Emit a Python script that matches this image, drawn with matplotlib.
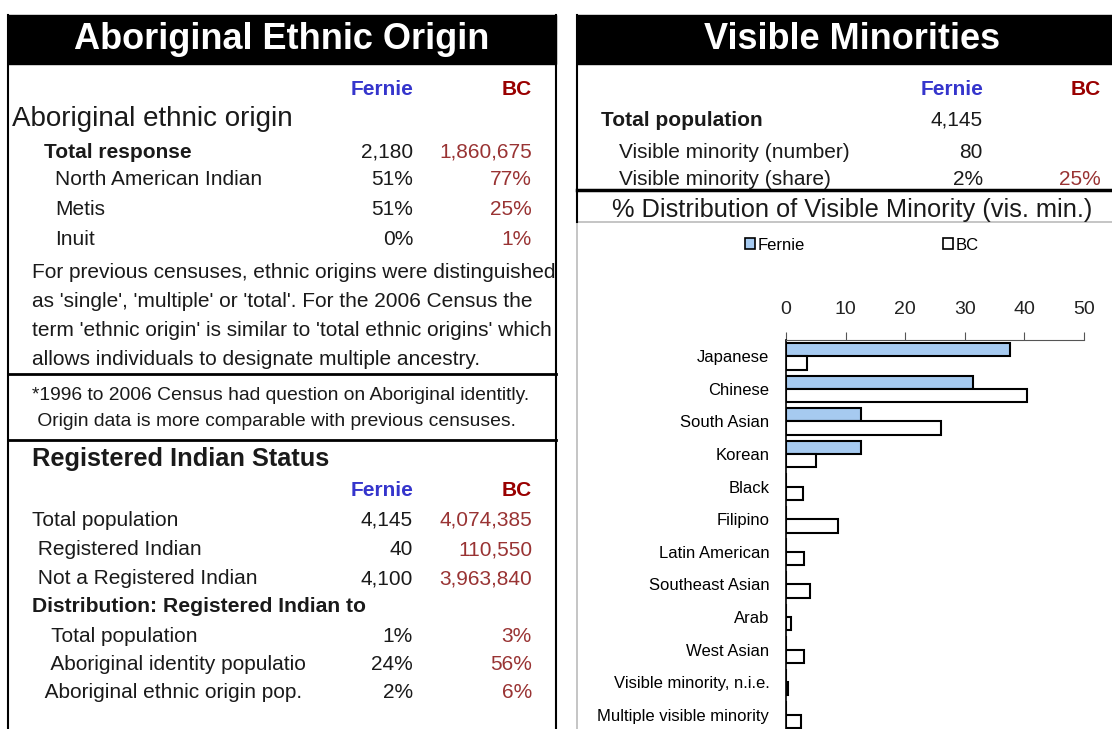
import numpy as np
import matplotlib.pyplot as plt
from matplotlib.patches import Rectangle, Patch

plt.rcParams['font.family'] = ['Liberation Sans', 'DejaVu Sans']

# ---- data ----
origin_rows = ["North American Indian", "Metis", "Inuit"]
origin_fernie = ["51%", "51%", "0%"]
origin_bc = ["77%", "25%", "1%"]
total_response = ["2,180", "1,860,675"]

note_lines = ["For previous censuses, ethnic origins were distinguished",
              "as 'single', 'multiple' or 'total'. For the 2006 Census the",
              "term 'ethnic origin' is similar to 'total ethnic origins' which",
              "allows individuals to designate multiple ancestry."]
foot_lines = ["*1996 to 2006 Census had question on Aboriginal identitly.",
              " Origin data is more comparable with previous censuses."]

reg_rows = ["Total population", " Registered Indian", " Not a Registered Indian"]
reg_fernie = ["4,145", "40", "4,100"]
reg_bc = ["4,074,385", "110,550", "3,963,840"]

dist_rows = ["  Total population", "  Aboriginal identity populatio", " Aboriginal ethnic origin pop."]
dist_fernie = ["1%", "24%", "2%"]
dist_bc = ["3%", "56%", "6%"]

vm_rows = ["Total population", "Visible minority (number)", "Visible minority (share)"]
vm_fernie = ["4,145", "80", "2%"]
vm_bc = ["", "", "25%"]

groups = ["Japanese", "Chinese", "South Asian", "Korean", "Black", "Filipino",
          "Latin American", "Southeast Asian", "Arab", "West Asian",
          "Visible minority, n.i.e.", "Multiple visible minority"]
fernie_pct = [37.5, 31.3, 12.5, 12.5, 0, 0, 0, 0, 0, 0, 0, 0]
bc_pct = [3.5, 40.4, 26.0, 5.0, 2.9, 8.8, 3.0, 4.0, 0.8, 3.0, 0.4, 2.5]

BLUE = "#3535CC"
DRED = "#990000"
MRED = "#993333"
TXT = "#1a1a1a"
FS = 15

fig = plt.figure(figsize=(11.12, 7.29), dpi=100)
bg = fig.add_axes([0, 0, 1, 1])
bg.set_xlim(0, 1112)
bg.set_ylim(729, 0)
bg.axis('off')


def t(x, y, s, **kw):
    kw.setdefault('color', TXT)
    kw.setdefault('fontsize', FS)
    kw.setdefault('va', 'center')
    bg.text(x, y + 1, s, **kw)


# ---- left panel ----
bg.add_patch(Rectangle((8, 15), 548, 49, color='black'))
t(282, 38, "Aboriginal Ethnic Origin", color='white', fontsize=26,
  fontweight='bold', ha='center')
bg.plot([8, 8], [15, 729], color='black', lw=1.5)
bg.plot([556, 556], [15, 729], color='black', lw=1.5)
bg.plot([8, 556], [374, 374], color='black', lw=2)
bg.plot([8, 556], [440, 440], color='black', lw=2)

fx, bx = 413, 532
t(fx, 88, "Fernie", color=BLUE, fontsize=15, fontweight='bold', ha='right')
t(bx, 88, "BC", color=DRED, fontsize=15, fontweight='bold', ha='right')
t(12, 118, "Aboriginal ethnic origin", fontsize=20)
t(44, 151, "Total response", fontsize=15, fontweight='bold')
t(fx, 151, total_response[0], ha='right')
t(bx, 151, total_response[1], color=MRED, ha='right')
for i, lab in enumerate(origin_rows):
    y = 178 + 30 * i
    t(55, y, lab)
    t(fx, y, origin_fernie[i], ha='right')
    t(bx, y, origin_bc[i], color=MRED, ha='right')
for i, line in enumerate(note_lines):
    t(32, 271 + 29.2 * i, line)
t(32, 394, foot_lines[0], fontsize=13.9)
t(32, 420, foot_lines[1], fontsize=13.9)

t(32, 458, "Registered Indian Status", fontsize=18.3, fontweight='bold')
t(fx, 489, "Fernie", color=BLUE, fontsize=15, fontweight='bold', ha='right')
t(bx, 489, "BC", color=DRED, fontsize=15, fontweight='bold', ha='right')
for i, lab in enumerate(reg_rows):
    y = 519 + 29.5 * i
    t(32, y, lab)
    t(fx, y, reg_fernie[i], ha='right')
    t(bx, y, reg_bc[i], color=MRED, ha='right')
t(32, 606, "Distribution: Registered Indian to", fontsize=15.2, fontweight='bold')
for i, lab in enumerate(dist_rows):
    y = 635 + 28.5 * i
    t(40, y, lab)
    t(fx, y, dist_fernie[i], ha='right')
    t(bx, y, dist_bc[i], color=MRED, ha='right')

# ---- right panel ----
bg.add_patch(Rectangle((577, 15), 540, 49, color='black'))
t(852, 38, "Visible Minorities", color='white', fontsize=26, fontweight='bold', ha='center')
bg.plot([577, 577], [15, 222], color='black', lw=1.5)
bg.plot([577, 1112], [190, 190], color='black', lw=2.5)
bg.add_patch(Rectangle((577, 222), 600, 520, facecolor='white', edgecolor='#bbbbbb', lw=1.2))

rfx, rbx = 983, 1101
t(rfx, 88, "Fernie", color=BLUE, fontsize=15, fontweight='bold', ha='right')
t(rbx, 88, "BC", color=DRED, fontsize=15, fontweight='bold', ha='right')
for i, lab in enumerate(vm_rows):
    y = [119, 151, 178][i]
    x = 601 if i == 0 else 619
    t(x, y, lab, fontweight='bold' if i == 0 else 'normal')
    t(rfx, y, vm_fernie[i], ha='right')
    t(rbx, y, vm_bc[i], color=MRED, ha='right')
t(852, 209, "% Distribution of Visible Minority (vis. min.)", fontsize=18.3, ha='center')

# ---- bar chart ----
ax = fig.add_axes([786 / 1112, 1 - 731 / 729, 298 / 1112, (731 - 340) / 729])
y = np.arange(len(groups))
h = 0.41
ax.barh(y - h / 2, fernie_pct, height=h, color='#A6CAF0', edgecolor='black', lw=1.5)
ax.barh(y + h / 2, bc_pct, height=h, color='white', edgecolor='black', lw=1.5)
ax.set_xlim(0, 50)
ax.set_ylim(len(groups) - 0.5, -0.5)
ax.set_yticks(y)
ax.set_yticklabels(groups, fontsize=12)
ax.tick_params(axis='y', length=0, pad=12)
ax.xaxis.tick_top()
ax.set_xticks(np.arange(0, 51, 10))
ax.tick_params(axis='x', direction='out', length=6, color='#555555', pad=10, labelsize=14,
               labelcolor='#222222')
for s in ['right', 'bottom']:
    ax.spines[s].set_visible(False)
ax.spines['top'].set_color('#555555')
ax.spines['left'].set_linewidth(1.2)
ax.patch.set_alpha(0)

handles = [Patch(facecolor='#A6CAF0', edgecolor='black', lw=1.2, label='Fernie'),
           Patch(facecolor='white', edgecolor='black', lw=1.2, label='BC')]
fig.legend(handles=handles, loc='center', bbox_to_anchor=(862 / 1112, 1 - 245 / 729),
           ncol=2, frameon=False, fontsize=12, handlelength=0.6, handleheight=0.6,
           handletextpad=0.15, columnspacing=8.3)

fig.savefig("out.png", dpi=100)
